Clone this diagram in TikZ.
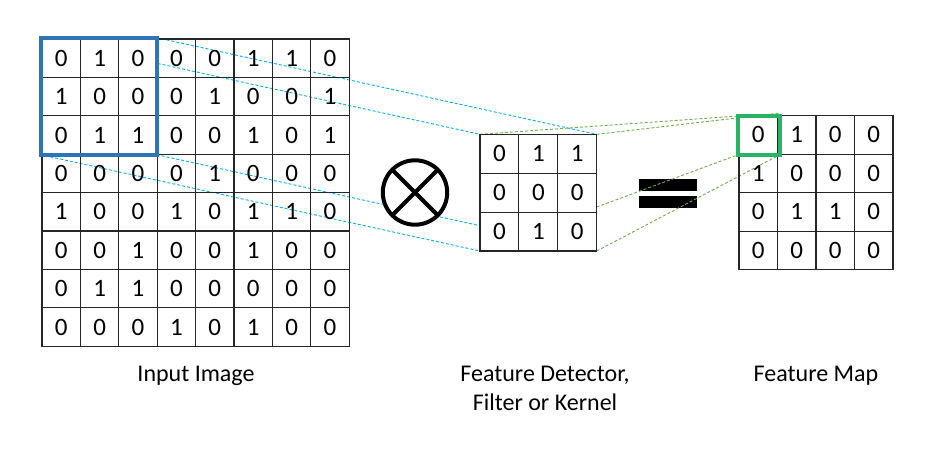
\documentclass[tikz,border=0pt]{standalone}
\usepackage{fontspec}
\setmainfont{Carlito}
\definecolor{boxblue}{RGB}{46,117,182}
\definecolor{boxgreen}{RGB}{40,180,100}
\definecolor{dashblue}{RGB}{0,176,240}
\definecolor{dashgreen}{RGB}{112,173,71}
\pgfdeclarelayer{eqlayer}
\pgfdeclarelayer{linelayer}
\pgfsetlayers{eqlayer,linelayer,main}
\begin{document}
\begin{tikzpicture}[x=1pt,y=-1pt,
  cell/.style={draw=black!85, line width=1.1pt, minimum width=#1, minimum height=#1,
    inner sep=0pt, outer sep=0pt, anchor=center, font=\fontsize{25}{30}\selectfont},
  hilite/.style={draw=#1, line width=4pt, inner sep=0pt, outer sep=0pt},
  bluedash/.style={dashblue, line width=0.9pt, dash pattern=on 3pt off 2pt},
  greendash/.style={dashgreen, line width=0.9pt, dash pattern=on 3pt off 2pt},
  eqbar/.style={fill=black, minimum width=58pt, minimum height=11.5pt, inner sep=0pt, outer sep=0pt},
  label/.style={font=\fontsize{24}{29}\selectfont, align=center, anchor=base}
]
\useasboundingbox (0,0) rectangle (928,453);

% white area under the blue window
\fill[white] (40.5,37.7) rectangle (156.7,154.7);

% input image
\foreach \row [count=\r] in {{0,1,0,0,0,1,1,0},{1,0,0,0,1,0,0,1},{0,1,1,0,0,1,0,1},{0,0,0,0,1,0,0,0},{1,0,0,1,0,1,1,0},{0,0,1,0,0,1,0,0},{0,1,1,0,0,0,0,0},{0,0,0,1,0,1,0,0}}{
  \foreach \v [count=\c] in \row {
    \node[cell=38.4pt] (in-\r-\c) at ({42+(\c-0.5)*38.4},{39+(\r-0.5)*38.4}) {\v};
  }
}

% kernel
\foreach \row [count=\r] in {{0,1,1},{0,0,0},{0,1,0}}{
  \foreach \v [count=\c] in \row {
    \node[cell=38.9pt] (k-\r-\c) at ({480+(\c-0.5)*38.9},{134.3+(\r-0.5)*38.9}) {\v};
  }
}

% feature map
\foreach \row [count=\r] in {{0,1,0,0},{1,0,0,0},{0,1,1,0},{0,0,0,0}}{
  \foreach \v [count=\c] in \row {
    \node[cell=38.5pt] (f-\r-\c) at ({739+(\c-0.5)*38.5},{115.7+(\r-0.5)*38.5}) {\v};
  }
}

% highlight windows
\node[hilite=boxblue, minimum width=116.2pt, minimum height=117pt] (bbox) at (98.6,96.2) {};
\node[hilite=boxgreen, minimum width=41.7pt, minimum height=38.7pt] (gbox) at (758.9,135.4) {};

% convolution operator
\node[circle, draw=black, fill=white, line width=4pt, minimum size=64.4pt, inner sep=0pt, outer sep=0pt] (otimes) at (415,192.5) {};
\draw[line width=4pt] (otimes.north east) -- (otimes.south west);
\draw[line width=4pt] (otimes.north west) -- (otimes.south east);

% equals sign
\begin{pgfonlayer}{eqlayer}
\node[eqbar] (eq1) at (668,184.85) {};
\node[eqbar] (eq2) at (668,201.75) {};
\end{pgfonlayer}

% connectors
\coordinate (kL) at (480,225.7);
\coordinate (kR) at (596.7,207);
\begin{pgfonlayer}{linelayer}
\draw[bluedash] (bbox.north east) -- (k-1-3.north east);
\draw[bluedash] (bbox.north west) -- (k-1-1.north west);
\draw[bluedash] (bbox.south west) -- (k-3-1.south west);
\draw[bluedash] (bbox.south east) -- (kL);
\draw[greendash] (k-1-1.north west) -- (gbox.north west);
\draw[greendash] (k-1-3.north east) -- ([yshift=3pt]gbox.north east);
\draw[greendash] (kR) -- (gbox.south west);
\draw[greendash] (k-3-3.south east) -- (gbox.south east);
\end{pgfonlayer}

% labels
\node[label] (lin) at (196,381) {Input Image};
\node[label] (lker) at (545,410) {Feature Detector,\\Filter or Kernel};
\node[label] (lmap) at (816,381) {Feature Map};
\end{tikzpicture}
\end{document}
